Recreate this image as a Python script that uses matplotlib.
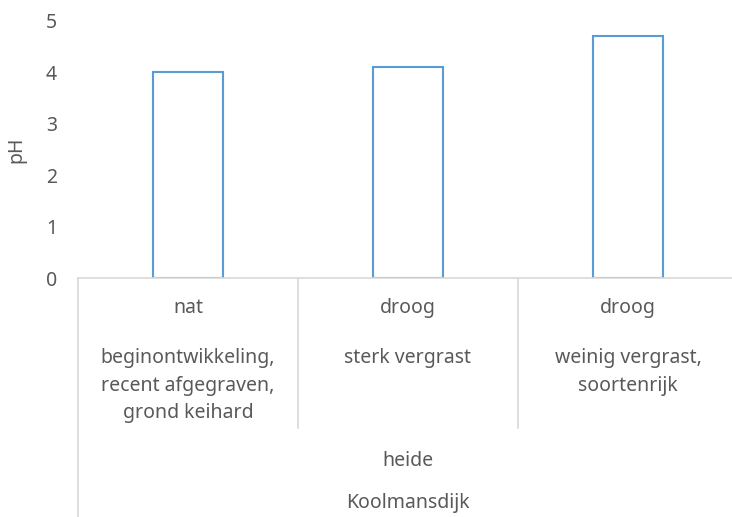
import matplotlib.pyplot as plt
from matplotlib.lines import Line2D

# pH per meetlocatie
vocht = ["nat", "droog", "droog"]
beschrijving = [
    "beginontwikkeling,\nrecent afgegraven,\ngrond keihard",
    "sterk vergrast",
    "weinig vergrast,\nsoortenrijk",
]
ph = [4.0, 4.1, 4.7]
type_gebied = "heide"
locatie = "Koolmansdijk"

tekst_kleur = "#595959"
lijn_kleur = "#D9D9D9"
fs = 14
plt.rcParams["font.family"] = ["Noto Sans", "DejaVu Sans"]

W, H = 732, 517
fig = plt.figure(figsize=(W / 100, H / 100), dpi=100)
# plotgebied in pixels: links 78, onder 278, boven 21, rechts 738
ax = fig.add_axes([78 / W, (H - 278) / H, 660 / W, 257 / H])

x = range(len(ph))
ax.bar(x, ph, width=0.314, facecolor="white", edgecolor="#5B9BD5", linewidth=1.5)

ax.set_xlim(-0.5, len(ph) - 0.5)
ax.set_ylim(0, 5)
ax.set_yticks(range(6))
ax.tick_params(axis="y", length=0, pad=15, labelsize=fs, labelcolor=tekst_kleur)
ax.set_xticks([])
for s in ["top", "right", "left"]:
    ax.spines[s].set_visible(False)
ax.spines["bottom"].set_color(lijn_kleur)
ax.spines["bottom"].set_linewidth(1.2)
ax.set_ylabel("pH", fontsize=fs, color=tekst_kleur, labelpad=14)

trans = ax.get_xaxis_transform()


def py(pix):
    # pixelhoogte in figuur -> asfractie
    return (278 - pix) / 257


# scheidingslijnen tussen categorieën
for xb, onder in [(-0.5, H), (0.5, 428), (1.5, 428), (2.5, H)]:
    ax.add_line(Line2D([xb, xb], [0, py(onder)], transform=trans,
                       color=lijn_kleur, linewidth=1.2, clip_on=False))

for i in x:
    ax.text(i, py(308), vocht[i], transform=trans, ha="center", va="center",
            fontsize=fs, color=tekst_kleur)
    ax.text(i, py(348), beschrijving[i], transform=trans, ha="center", va="top",
            fontsize=fs, color=tekst_kleur, linespacing=1.5)

ax.text(1, py(461), type_gebied, transform=trans, ha="center", va="center",
        fontsize=fs, color=tekst_kleur)
ax.text(1, py(503), locatie, transform=trans, ha="center", va="center",
        fontsize=fs, color=tekst_kleur)

fig.savefig("out.png", dpi=100)
